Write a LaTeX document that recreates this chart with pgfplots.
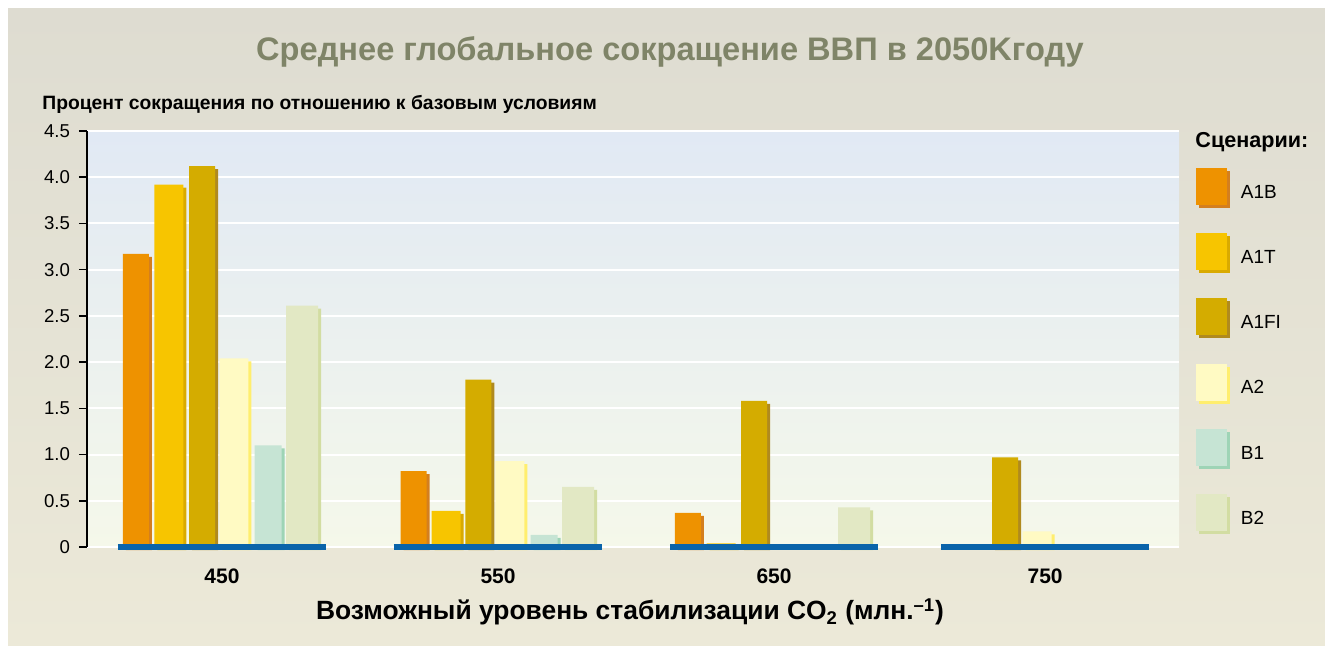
\documentclass[border=0pt]{standalone}
\usepackage{pgfplots}
\pgfplotsset{compat=1.18}
\usepackage{pgfplotstable}
\usepackage{fontspec}
\setmainfont{Liberation Sans}

\definecolor{bgtop}{HTML}{DEDCD1}
\definecolor{bgbot}{HTML}{ECE9D8}
\definecolor{plottop}{HTML}{E1E9F4}
\definecolor{plotbot}{HTML}{F5F8EA}
\definecolor{titlecol}{HTML}{7F8468}
\definecolor{A1B}{HTML}{EE9200}
\definecolor{A1Bs}{HTML}{D47F1E}
\definecolor{A1T}{HTML}{F7C500}
\definecolor{A1Ts}{HTML}{D9AA00}
\definecolor{A1FI}{HTML}{D4AC00}
\definecolor{A1FIs}{HTML}{B08A1E}
\definecolor{A2}{HTML}{FFFAC3}
\definecolor{A2s}{HTML}{FFEE6E}
\definecolor{B1}{HTML}{C6E4D4}
\definecolor{B1s}{HTML}{9ED4B6}
\definecolor{B2}{HTML}{E2E8C4}
\definecolor{B2s}{HTML}{D2DDA2}
\definecolor{baseblue}{HTML}{0A64AA}

% x = group index (450=0, 550=1, 650=2, 750~3) + slot offset
\pgfplotstableread{
x y
-0.312 3.17
0.694 0.82
1.688 0.37
}\tA
\pgfplotstableread{
x y
-0.192 3.92
0.812 0.39
1.808 0.04
}\tT
\pgfplotstableread{
x y
-0.072 4.12
0.929 1.81
1.928 1.58
2.837 0.97
}\tF
\pgfplotstableread{
x y
0.043 2.04
1.043 0.93
2.953 0.17
}\tAA
\pgfplotstableread{
x y
0.167 1.10
1.167 0.13
}\tBa
\pgfplotstableread{
x y
0.290 2.61
1.290 0.65
2.290 0.43
}\tBb

\begin{document}
\begin{tikzpicture}[x=0.5pt,y=-0.5pt]
\fill[white] (0,0) rectangle (1325,646);
\shade[top color=bgtop, bottom color=bgbot] (8,9) rectangle (1325,646);
\coordinate (axorig) at (87,547);

\node[text=titlecol, font=\bfseries\fontsize{16.3}{19}\selectfont] at (670,52) {Среднее глобальное сокращение ВВП в 2050Kгоду};
\node[anchor=west, font=\bfseries\fontsize{9.65}{11}\selectfont, inner sep=0pt] at (42,104) {Процент сокращения по отношению к базовым условиям};
\node[font=\bfseries\fontsize{13.2}{15}\selectfont] at (630,612) {Возможный уровень стабилизации CO\textsubscript{2} (млн.\textsuperscript{–1})};
\node[anchor=west, font=\bfseries\fontsize{10.8}{12}\selectfont, inner sep=0pt] at (1195,142) {Сценарии:};

\begin{axis}[
  at={(axorig)}, anchor=south west,
  scale only axis, width=546pt, height=208pt,
  xmin=-0.489, xmax=3.467, ymin=0, ymax=4.5,
  clip=false,
  axis background/.style={shade, top color=plottop, bottom color=plotbot},
  axis lines*=left,
  x axis line style={draw=none},
  y axis line style={black, line width=1pt},
  ytick={0,0.5,1,1.5,2,2.5,3,3.5,4,4.5},
  yticklabels={0,0.5,1.0,1.5,2.0,2.5,3.0,3.5,4.0,4.5},
  xtick={0,1,2,2.982},
  xticklabels={450,550,650,750},
  tick align=outside,
  ytick style={black, line width=0.8pt},
  major tick length=4pt,
  xtick style={draw=none},
  ymajorgrids,
  major grid style={white, line width=1pt},
  yticklabel style={font=\fontsize{9.3}{11}\selectfont, text=black, xshift=-1pt},
  xticklabel style={font=\bfseries\fontsize{10.5}{12}\selectfont, text=black, yshift=-3.5pt},
  legend style={draw=none, fill=none, at={(1.0156,0.911)}, anchor=north west,
    inner sep=0pt, outer sep=0pt, row sep=12.7pt,
    nodes={inner sep=0pt, font=\fontsize{9.5}{11}\selectfont, text=black},
    /tikz/every odd column/.append style={column sep=5.5pt}},
  legend cell align=left,
]
% shadows and bars
\addplot[ybar, bar width=0.094, bar shift=0pt, fill=A1Bs, draw=none, xshift=1.5pt, yshift=-1.5pt, forget plot] table {\tA};
\addplot[ybar, bar width=0.094, bar shift=0pt, fill=A1B, draw=none, forget plot] table {\tA};
\addplot[ybar, bar width=0.105, bar shift=0pt, fill=A1Ts, draw=none, xshift=1.5pt, yshift=-1.5pt, forget plot] table {\tT};
\addplot[ybar, bar width=0.105, bar shift=0pt, fill=A1T, draw=none, forget plot] table {\tT};
\addplot[ybar, bar width=0.094, bar shift=0pt, fill=A1FIs, draw=none, xshift=1.5pt, yshift=-1.5pt, forget plot] table {\tF};
\addplot[ybar, bar width=0.094, bar shift=0pt, fill=A1FI, draw=none, forget plot] table {\tF};
\addplot[ybar, bar width=0.105, bar shift=0pt, fill=A2s, draw=none, xshift=1.5pt, yshift=-1.5pt, forget plot] table {\tAA};
\addplot[ybar, bar width=0.105, bar shift=0pt, fill=A2, draw=none, forget plot] table {\tAA};
\addplot[ybar, bar width=0.098, bar shift=0pt, fill=B1s, draw=none, xshift=1.5pt, yshift=-1.5pt, forget plot] table {\tBa};
\addplot[ybar, bar width=0.098, bar shift=0pt, fill=B1, draw=none, forget plot] table {\tBa};
\addplot[ybar, bar width=0.116, bar shift=0pt, fill=B2s, draw=none, xshift=1.5pt, yshift=-1.5pt, forget plot] table {\tBb};
\addplot[ybar, bar width=0.116, bar shift=0pt, fill=B2, draw=none, forget plot] table {\tBb};
% blue baselines
\addplot[sharp plot, baseblue, line width=2.6pt, forget plot] coordinates {(-0.377,0) (0.377,0)};
\addplot[sharp plot, baseblue, line width=2.6pt, forget plot] coordinates {(0.623,0) (1.377,0)};
\addplot[sharp plot, baseblue, line width=2.6pt, forget plot] coordinates {(1.623,0) (2.377,0)};
\addplot[sharp plot, baseblue, line width=2.6pt, forget plot] coordinates {(2.605,0) (3.359,0)};
% legend
\addlegendimage{legend image code/.code={\fill[A1Bs] (1.5pt,-7.1pt) rectangle (16.5pt,10.9pt); \fill[A1B] (0pt,-5.6pt) rectangle (15pt,12.4pt);}}
\addlegendentry{A1B}
\addlegendimage{legend image code/.code={\fill[A1Ts] (1.5pt,-7.1pt) rectangle (16.5pt,10.9pt); \fill[A1T] (0pt,-5.6pt) rectangle (15pt,12.4pt);}}
\addlegendentry{A1T}
\addlegendimage{legend image code/.code={\fill[A1FIs] (1.5pt,-7.1pt) rectangle (16.5pt,10.9pt); \fill[A1FI] (0pt,-5.6pt) rectangle (15pt,12.4pt);}}
\addlegendentry{A1FI}
\addlegendimage{legend image code/.code={\fill[A2s] (1.5pt,-7.1pt) rectangle (16.5pt,10.9pt); \fill[A2] (0pt,-5.6pt) rectangle (15pt,12.4pt);}}
\addlegendentry{A2}
\addlegendimage{legend image code/.code={\fill[B1s] (1.5pt,-7.1pt) rectangle (16.5pt,10.9pt); \fill[B1] (0pt,-5.6pt) rectangle (15pt,12.4pt);}}
\addlegendentry{B1}
\addlegendimage{legend image code/.code={\fill[B2s] (1.5pt,-7.1pt) rectangle (16.5pt,10.9pt); \fill[B2] (0pt,-5.6pt) rectangle (15pt,12.4pt);}}
\addlegendentry{B2}
\end{axis}
\end{tikzpicture}
\end{document}
